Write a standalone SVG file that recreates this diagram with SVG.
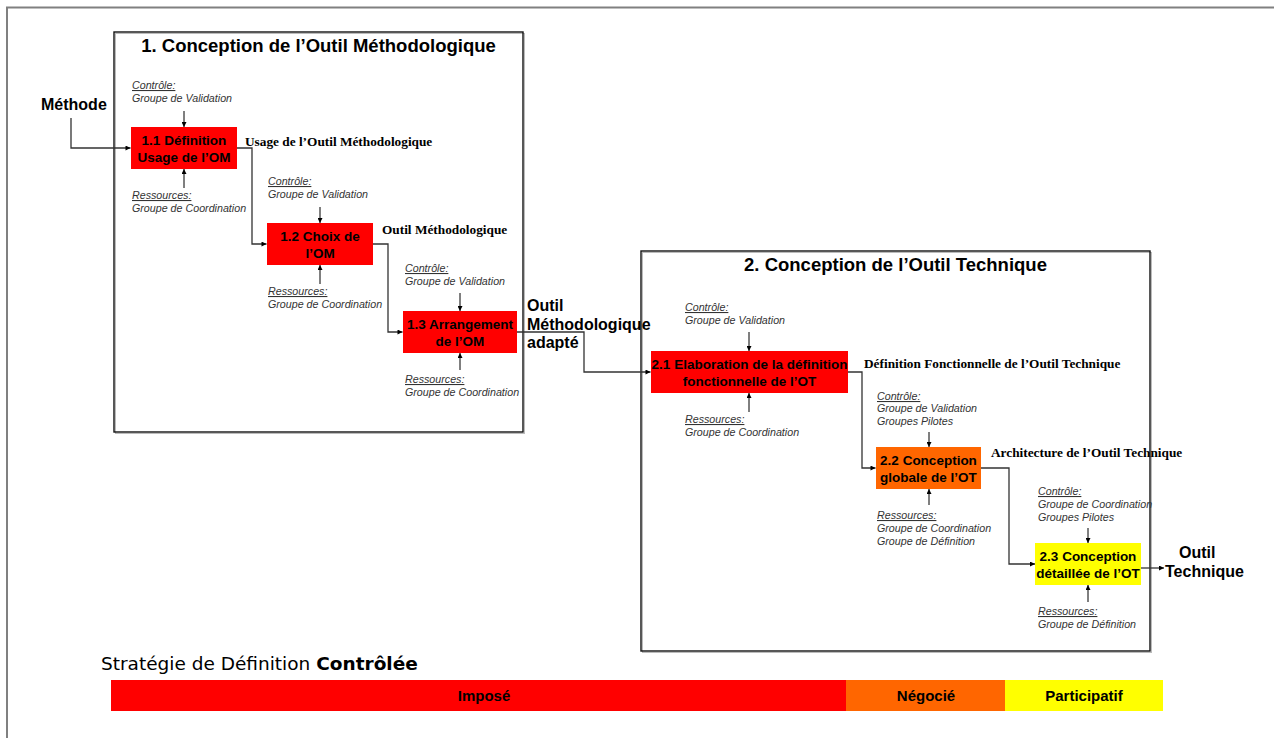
<svg xmlns="http://www.w3.org/2000/svg" width="1274" height="738" viewBox="0 0 1274 738">
<defs>
<marker id="ah" viewBox="0 0 10 10" refX="10" refY="5" markerWidth="6" markerHeight="5" markerUnits="userSpaceOnUse" orient="auto"><path d="M0,0 L10,5 L0,10 z" fill="#000"/></marker>
<style>
.frame{fill:none;stroke:#808080;stroke-width:2}
.box{fill:none;stroke:#111;stroke-width:1.4}
.shadow{fill:none;stroke:#bbb;stroke-width:1}
.title{font-family:"Liberation Sans",Arial,sans-serif;font-weight:bold;font-size:18.5px;text-anchor:middle;fill:#000}
.nt{font-family:"Liberation Sans",Arial,sans-serif;font-weight:bold;font-size:13.5px;text-anchor:middle;fill:#000}
.lbl{font-family:"Liberation Sans",Arial,sans-serif;font-style:italic;font-size:10.7px;fill:#333}
.u{text-decoration:underline}
.tb{font-family:"Liberation Serif","Times New Roman",serif;font-weight:bold;font-size:13.3px;fill:#000}
.big{font-family:"Liberation Sans",Arial,sans-serif;font-weight:bold;font-size:16px;fill:#000}
.conn{fill:none;stroke:#333;stroke-width:1.3;marker-end:url(#ah)}
.ctl{fill:none;stroke:#000;stroke-width:1;marker-end:url(#ah)}
.red{fill:#FF0000}
.orange{fill:#FF6600}
.yellow{fill:#FFFF00}
.bar{font-family:"Liberation Sans",Arial,sans-serif;font-weight:bold;font-size:15px;text-anchor:middle;fill:#000}
.strat{font-family:"DejaVu Sans",Tahoma,sans-serif;font-size:18.5px;fill:#000}
</style>
</defs>
<rect width="1274" height="738" fill="#fff"/>
<path class="frame" d="M7,738 V7.5 H1274"/>

<g id="box1">
<rect class="shadow" x="115.5" y="33.5" width="409" height="400"/>
<rect class="box" x="114" y="32" width="409" height="400" fill="#fff"/>
<text class="title" x="318.5" y="52">1. Conception de l’Outil Méthodologique</text>
</g>
<g id="box2">
<rect class="shadow" x="642.5" y="252.5" width="509" height="400"/>
<rect class="box" x="641" y="251" width="509" height="400" fill="#fff"/>
<text class="title" x="895.5" y="271">2. Conception de l’Outil Technique</text>
</g>

<g id="connectors">
<path class="conn" d="M71,118 V148 H130.5"/>
<path class="conn" d="M237,148 H252 V244 H266.5"/>
<path class="conn" d="M373,244 H388 V332 H402.5"/>
<path class="conn" d="M517,332 H584 V372 H650.5"/>
<path class="conn" d="M848,372 H862 V468 H875.5"/>
<path class="conn" d="M981,468 H1009 V564 H1035"/>
<path class="conn" d="M1141,568 H1164"/>
</g>

<g id="in-methode"><text class="big" x="41" y="110">Méthode</text></g>

<g id="n11">
<text class="lbl" x="132" y="89"><tspan class="u">Contrôle:</tspan></text>
<text class="lbl" x="132" y="102">Groupe de Validation</text>
<path class="ctl" d="M184,111 V127"/>
<rect class="red" x="131" y="127" width="106" height="42"/>
<text class="nt" x="184" y="145">1.1 Définition</text>
<text class="nt" x="184" y="162">Usage de l’OM</text>
<path class="ctl" d="M184,188 V169"/>
<text class="lbl" x="132" y="199"><tspan class="u">Ressources:</tspan></text>
<text class="lbl" x="132" y="212">Groupe de Coordination</text>
</g>
<g id="o11"><text class="tb" x="245" y="146">Usage de l’Outil Méthodologique</text></g>

<g id="n12">
<text class="lbl" x="268" y="185"><tspan class="u">Contrôle:</tspan></text>
<text class="lbl" x="268" y="198">Groupe de Validation</text>
<path class="ctl" d="M320,207 V223"/>
<rect class="red" x="267" y="223" width="106" height="42"/>
<text class="nt" x="320" y="241">1.2 Choix de</text>
<text class="nt" x="320" y="258">l’OM</text>
<path class="ctl" d="M320,284 V265"/>
<text class="lbl" x="268" y="295"><tspan class="u">Ressources:</tspan></text>
<text class="lbl" x="268" y="308">Groupe de Coordination</text>
</g>
<g id="o12"><text class="tb" x="382" y="234">Outil Méthodologique</text></g>

<g id="n13">
<text class="lbl" x="405" y="272"><tspan class="u">Contrôle:</tspan></text>
<text class="lbl" x="405" y="285">Groupe de Validation</text>
<path class="ctl" d="M460,293 V311"/>
<rect class="red" x="403" y="311" width="114" height="42"/>
<text class="nt" x="460" y="329">1.3 Arrangement</text>
<text class="nt" x="460" y="346">de l’OM</text>
<path class="ctl" d="M460,370 V353"/>
<text class="lbl" x="405" y="383"><tspan class="u">Ressources:</tspan></text>
<text class="lbl" x="405" y="396">Groupe de Coordination</text>
</g>
<g id="o13">
<text class="big" x="527" y="311">Outil</text>
<text class="big" x="527" y="330">Méthodologique</text>
<text class="big" x="527" y="348">adapté</text>
</g>

<g id="n21">
<text class="lbl" x="685" y="311"><tspan class="u">Contrôle:</tspan></text>
<text class="lbl" x="685" y="324">Groupe de Validation</text>
<path class="ctl" d="M749,332 V351"/>
<rect class="red" x="651" y="351" width="197" height="42"/>
<text class="nt" x="749.5" y="369">2.1 Elaboration de la définition</text>
<text class="nt" x="749.5" y="386">fonctionnelle de l’OT</text>
<path class="ctl" d="M749,412 V393"/>
<text class="lbl" x="685" y="423"><tspan class="u">Ressources:</tspan></text>
<text class="lbl" x="685" y="436">Groupe de Coordination</text>
</g>
<g id="o21"><text class="tb" x="864" y="368">Définition Fonctionnelle de l’Outil Technique</text></g>

<g id="n22">
<text class="lbl" x="877" y="400"><tspan class="u">Contrôle:</tspan></text>
<text class="lbl" x="877" y="412">Groupe de Validation</text>
<text class="lbl" x="877" y="425">Groupes Pilotes</text>
<path class="ctl" d="M929,432 V447"/>
<rect class="orange" x="876" y="447" width="105" height="42"/>
<text class="nt" x="928.5" y="465">2.2 Conception</text>
<text class="nt" x="928.5" y="482">globale de l’OT</text>
<path class="ctl" d="M929,505 V489"/>
<text class="lbl" x="877" y="519"><tspan class="u">Ressources:</tspan></text>
<text class="lbl" x="877" y="532">Groupe de Coordination</text>
<text class="lbl" x="877" y="545">Groupe de Définition</text>
</g>
<g id="o22"><text class="tb" x="991" y="457">Architecture de l’Outil Technique</text></g>

<g id="n23">
<text class="lbl" x="1038" y="495"><tspan class="u">Contrôle:</tspan></text>
<text class="lbl" x="1038" y="508">Groupe de Coordination</text>
<text class="lbl" x="1038" y="521">Groupes Pilotes</text>
<path class="ctl" d="M1088,528 V543"/>
<rect class="yellow" x="1035" y="543" width="106" height="42"/>
<text class="nt" x="1088" y="561">2.3 Conception</text>
<text class="nt" x="1088" y="578">détaillée de l’OT</text>
<path class="ctl" d="M1088,602 V585"/>
<text class="lbl" x="1038" y="615"><tspan class="u">Ressources:</tspan></text>
<text class="lbl" x="1038" y="628">Groupe de Définition</text>
</g>
<g id="o23">
<text class="big" x="1179" y="558">Outil</text>
<text class="big" x="1165" y="577">Technique</text>
</g>

<g id="strategie">
<text class="strat" x="101" y="670">Stratégie de Définition <tspan font-weight="bold">Contrôlée</tspan></text>
<rect class="red" x="111" y="680" width="735" height="31"/>
<rect class="orange" x="846" y="680" width="159" height="31"/>
<rect class="yellow" x="1005" y="680" width="158" height="31"/>
<text class="bar" x="484" y="701">Imposé</text>
<text class="bar" x="926" y="701">Négocié</text>
<text class="bar" x="1084" y="701">Participatif</text>
</g>
</svg>
